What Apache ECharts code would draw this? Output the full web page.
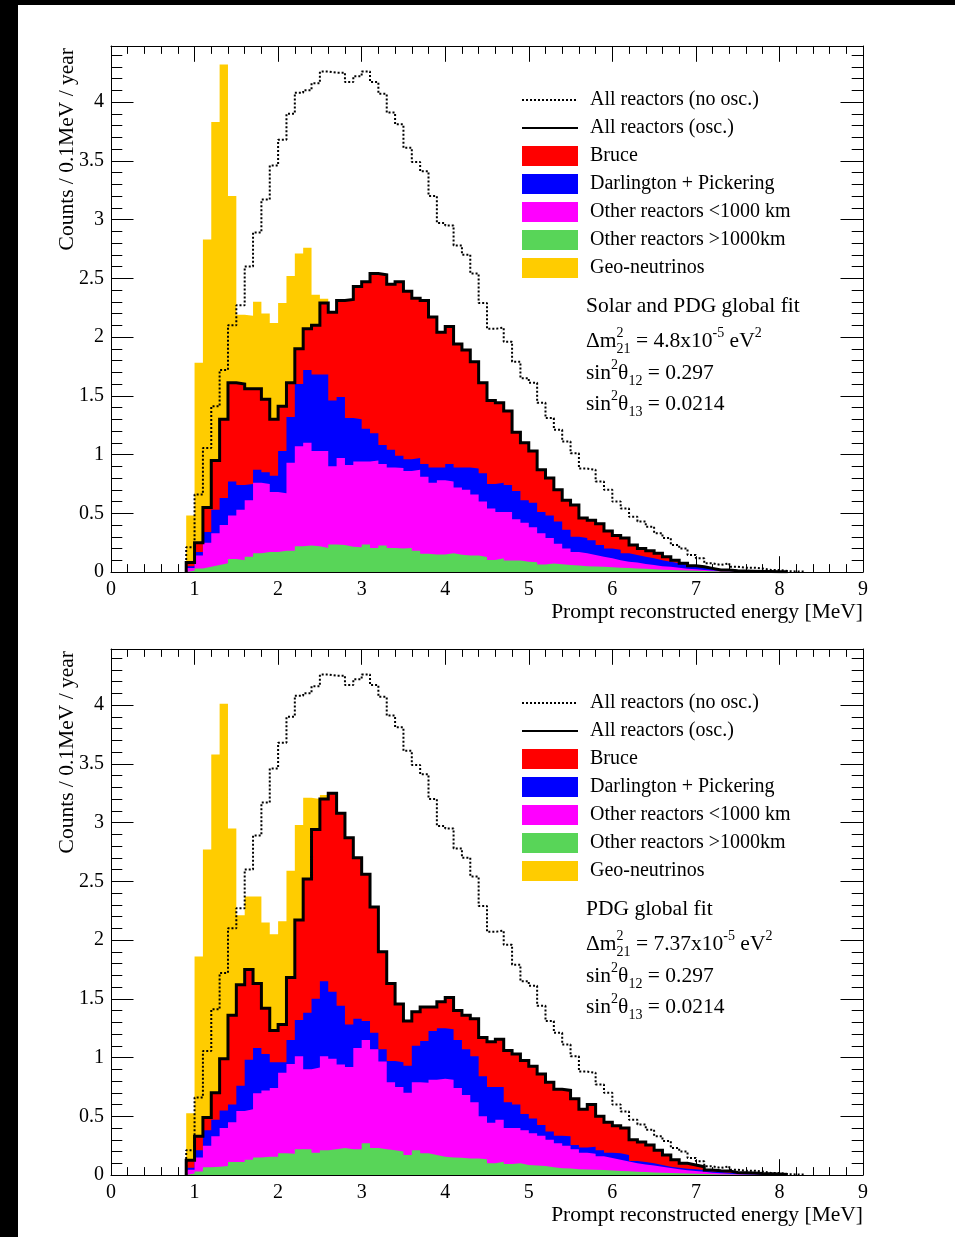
<!DOCTYPE html>
<html>
<head>
<meta charset="utf-8">
<script src="https://cdn.jsdelivr.net/npm/echarts@6/dist/echarts.min.js"></script>
<style>
  html, body { margin: 0; padding: 0; background: #fff; }
  #chart { width: 955px; height: 1237px; }
</style>
</head>
<body>
<div id="chart"></div>
<script>
// ---- Binning of the prompt-energy spectra (MeV) ----
const BIN_WIDTH = 0.1;
const FIRST_BIN = 0.9;   // lower edge of the first listed bin; earlier bins are empty
const E_MAX = 9;

// All reactors without oscillation (identical in both panels), counts / 0.1 MeV / year
const noOsc = [
  0.21, 0.66, 1.055, 1.41, 1.72, 2.10, 2.27, 2.60, 2.89, 3.17,
  3.46, 3.68, 3.90, 4.08, 4.10, 4.16, 4.26, 4.25, 4.25, 4.17,
  4.22, 4.26, 4.17, 4.07, 3.91, 3.81, 3.61, 3.49, 3.41, 3.20,
  2.97, 2.95, 2.78, 2.70, 2.54, 2.29, 2.07, 2.08, 1.96, 1.79,
  1.65, 1.61, 1.44, 1.31, 1.21, 1.11, 1.01, 0.88, 0.87, 0.77,
  0.70, 0.60, 0.54, 0.47, 0.43, 0.385, 0.33, 0.29, 0.23, 0.20,
  0.145, 0.116, 0.074, 0.06, 0.074, 0.045, 0.037, 0.037, 0.03, 0.017,
  0.017, 0.008, 0.005, 0.003
];

// Geo-neutrinos (identical in both panels), stacked on top of the reactors
const geo = [
  0.40, 1.53, 2.28, 2.88, 3.02, 1.59, 0.59, 0.62, 0.74, 0.73,
  0.82, 0.88, 0.91, 0.81, 0.69, 0.26, 0.035
];

// ---- Upper panel: Solar and PDG global fit (cumulative stack levels) ----
// All reactors (osc.) = top of the Bruce layer
const solarTotal = [
  0.08, 0.25, 0.55, 0.95, 1.30, 1.61, 1.60, 1.56, 1.56, 1.47,
  1.30, 1.41, 1.61, 1.90, 2.07, 2.10, 2.29, 2.21, 2.31, 2.32,
  2.43, 2.47, 2.54, 2.53, 2.45, 2.47, 2.39, 2.33, 2.31, 2.17,
  2.04, 2.09, 1.94, 1.89, 1.79, 1.61, 1.46, 1.44, 1.37, 1.19,
  1.10, 1.03, 0.87, 0.80, 0.70, 0.61, 0.57, 0.46, 0.44, 0.41,
  0.35, 0.31, 0.29, 0.23, 0.20, 0.18, 0.16, 0.13, 0.10, 0.074,
  0.054, 0.045, 0.031, 0.017, 0.017, 0.010, 0.008, 0.006, 0.005, 0.004,
  0.003, 0.002
];
// Top of the Darlington + Pickering layer
const solarDP = [
  0.05, 0.17, 0.34, 0.53, 0.63, 0.77, 0.74, 0.75, 0.87, 0.85,
  0.82, 1.03, 1.32, 1.60, 1.72, 1.68, 1.68, 1.46, 1.49, 1.31,
  1.30, 1.22, 1.18, 1.08, 1.04, 0.99, 0.96, 0.97, 0.92, 0.89,
  0.89, 0.92, 0.89, 0.89, 0.88, 0.84, 0.75, 0.76, 0.74, 0.69,
  0.61, 0.59, 0.51, 0.48, 0.43, 0.36, 0.30, 0.29, 0.27, 0.23,
  0.20, 0.19, 0.16, 0.145, 0.13, 0.116, 0.10, 0.088, 0.074, 0.06,
  0.045, 0.037, 0.026, 0.014, 0.013, 0.008, 0.006, 0.005, 0.004, 0.003,
  0.002, 0.0015
];
// Top of the other reactors < 1000 km layer
const solarNear = [
  0.035, 0.14, 0.25, 0.33, 0.40, 0.48, 0.53, 0.61, 0.76, 0.75,
  0.68, 0.67, 0.93, 1.07, 1.10, 1.03, 1.03, 0.90, 0.97, 0.91,
  0.94, 0.94, 0.95, 0.92, 0.89, 0.885, 0.86, 0.87, 0.81, 0.76,
  0.78, 0.77, 0.72, 0.70, 0.66, 0.60, 0.54, 0.51, 0.51, 0.45,
  0.42, 0.38, 0.33, 0.29, 0.24, 0.20, 0.17, 0.16, 0.145, 0.13,
  0.116, 0.10, 0.088, 0.08, 0.068, 0.06, 0.05, 0.045, 0.037, 0.028,
  0.023, 0.017, 0.012, 0.008, 0.007, 0.005, 0.004, 0.003, 0.002, 0.002,
  0.001, 0.001
];
// Other reactors > 1000 km (bottom layer)
const solarFar = [
  0.01, 0.03, 0.045, 0.06, 0.075, 0.11, 0.10, 0.13, 0.16, 0.17,
  0.17, 0.18, 0.18, 0.22, 0.225, 0.22, 0.205, 0.235, 0.23, 0.215,
  0.21, 0.235, 0.205, 0.225, 0.205, 0.20, 0.205, 0.18, 0.155, 0.15,
  0.15, 0.16, 0.147, 0.14, 0.14, 0.127, 0.103, 0.117, 0.097, 0.097,
  0.088, 0.082, 0.064, 0.073, 0.065, 0.06, 0.055, 0.05, 0.047, 0.045,
  0.04, 0.037, 0.034, 0.03, 0.027, 0.024, 0.02, 0.018, 0.015, 0.012,
  0.01, 0.008, 0.006, 0.005, 0.004, 0.003, 0.002, 0.002, 0.001, 0.001,
  0.001, 0.0005
];

// ---- Lower panel: PDG global fit (cumulative stack levels) ----
const pdgTotal = [
  0.125, 0.33, 0.49, 0.70, 0.99, 1.36, 1.62, 1.75, 1.63, 1.42,
  1.23, 1.28, 1.68, 2.17, 2.52, 2.94, 3.20, 3.25, 3.08, 2.87,
  2.70, 2.56, 2.28, 1.90, 1.63, 1.455, 1.31, 1.39, 1.43, 1.43,
  1.475, 1.51, 1.40, 1.36, 1.33, 1.17, 1.135, 1.155, 1.06, 1.03,
  0.975, 0.925, 0.86, 0.79, 0.73, 0.72, 0.65, 0.56, 0.60, 0.50,
  0.45, 0.42, 0.40, 0.30, 0.28, 0.255, 0.21, 0.17, 0.13, 0.10,
  0.085, 0.07, 0.043, 0.037, 0.035, 0.022, 0.02, 0.018, 0.012, 0.01,
  0.008, 0.004
];
const pdgDP = [
  0.062, 0.21, 0.38, 0.47, 0.55, 0.60, 0.76, 0.98, 1.08, 1.03,
  0.96, 0.96, 1.15, 1.32, 1.38, 1.50, 1.65, 1.56, 1.44, 1.28,
  1.33, 1.31, 1.21, 1.07, 0.97, 0.96, 0.93, 1.10, 1.14, 1.225,
  1.25, 1.24, 1.15, 1.07, 1.01, 0.84, 0.75, 0.75, 0.62, 0.60,
  0.52, 0.48, 0.425, 0.37, 0.335, 0.33, 0.255, 0.235, 0.24, 0.21,
  0.19, 0.185, 0.17, 0.12, 0.11, 0.10, 0.085, 0.07, 0.062, 0.054,
  0.048, 0.043, 0.03, 0.025, 0.02, 0.014, 0.012, 0.01, 0.007, 0.006,
  0.004, 0.002
];
const pdgNear = [
  0.045, 0.15, 0.25, 0.33, 0.40, 0.45, 0.545, 0.56, 0.695, 0.72,
  0.74, 0.87, 0.945, 1.01, 0.90, 0.915, 1.01, 0.99, 0.94, 0.92,
  1.08, 1.15, 1.07, 0.965, 0.79, 0.75, 0.70, 0.79, 0.785, 0.81,
  0.82, 0.81, 0.74, 0.68, 0.62, 0.50, 0.445, 0.47, 0.40, 0.40,
  0.38, 0.355, 0.335, 0.30, 0.27, 0.25, 0.22, 0.19, 0.18, 0.16,
  0.145, 0.13, 0.115, 0.10, 0.09, 0.08, 0.07, 0.06, 0.05, 0.04,
  0.033, 0.027, 0.02, 0.015, 0.01, 0.007, 0.005, 0.004, 0.003, 0.002,
  0.001, 0.001
];
const pdgFar = [
  0.012, 0.03, 0.065, 0.07, 0.077, 0.11, 0.11, 0.13, 0.15, 0.155,
  0.155, 0.185, 0.18, 0.22, 0.22, 0.19, 0.21, 0.22, 0.23, 0.22,
  0.22, 0.27, 0.23, 0.22, 0.21, 0.20, 0.17, 0.21, 0.185, 0.17,
  0.156, 0.15, 0.147, 0.14, 0.14, 0.133, 0.10, 0.113, 0.094, 0.10,
  0.085, 0.08, 0.077, 0.065, 0.057, 0.055, 0.05, 0.047, 0.045, 0.042,
  0.038, 0.035, 0.032, 0.028, 0.025, 0.022, 0.02, 0.017, 0.014, 0.012,
  0.01, 0.008, 0.006, 0.005, 0.004, 0.003, 0.002, 0.002, 0.001, 0.001,
  0.001, 0.0005
];

// Text shown in each panel
const fitTitles = ['Solar and PDG global fit', 'PDG global fit'];
const dm21Values = ['4.8', '7.37'];
const sin2th12 = '0.297';
const sin2th13 = '0.0214';
const legendNames = [
  'All reactors (no osc.)', 'All reactors (osc.)', 'Bruce', 'Darlington + Pickering',
  'Other reactors <1000 km', 'Other reactors >1000km', 'Geo-neutrinos'
];

// ---- Styling / layout ----
const SERIF = 'Liberation Serif';
const COLORS = {
  geo: '#ffcc00', bruce: '#ff0000', dp: '#0000ff', near: '#ff00ff', far: '#58d558'
};
const PANEL_TOP = [46, 649];
const PLOT_LEFT = 111, PLOT_W = 752, PLOT_H = 526;
const Y_MAX = 4.477;

// Histogram -> step outline points [lowEdge, content], closed back to zero
function stepPoints(values) {
  const pts = [[FIRST_BIN, 0]];
  values.forEach((v, i) => pts.push([+(FIRST_BIN + i * BIN_WIDTH).toFixed(2), v]));
  pts.push([+(FIRST_BIN + values.length * BIN_WIDTH).toFixed(2), 0]);
  return pts;
}

function panelSeries(p, total, dp, near, far) {
  const base = {
    type: 'line', xAxisIndex: p * 2, yAxisIndex: p * 4, step: 'end',
    symbol: 'none', silent: true, animation: false, clip: true
  };
  const fill = (name, vals, color) => Object.assign({}, base, {
    name, data: stepPoints(vals), color,
    lineStyle: { width: 0 }, areaStyle: { color, opacity: 1 }
  });
  const withGeo = total.map((v, i) => v + (geo[i] || 0));
  return [
    fill('Geo-neutrinos', withGeo, COLORS.geo),
    fill('Bruce', total, COLORS.bruce),
    fill('Darlington + Pickering', dp, COLORS.dp),
    fill('Other reactors <1000 km', near, COLORS.near),
    fill('Other reactors >1000km', far, COLORS.far),
    Object.assign({}, base, {
      name: 'All reactors (osc.)', data: stepPoints(total), color: '#000',
      lineStyle: { width: 3, color: '#000', join: 'miter' }
    }),
    Object.assign({}, base, {
      name: 'All reactors (no osc.)', data: stepPoints(noOsc), color: '#000',
      lineStyle: { width: 2, color: '#000', type: [2, 2] }
    })
  ];
}

const tickColor = { color: '#000', width: 1 };
function xAxes(p) {
  const common = {
    gridIndex: p, type: 'value', min: 0, max: E_MAX, interval: 1,
    axisLine: { show: true, onZero: false, lineStyle: tickColor },
    axisTick: { show: true, inside: true, length: 15.8, lineStyle: tickColor },
    minorTick: { show: true, splitNumber: 5, length: 7.9, lineStyle: tickColor },
    splitLine: { show: false }, minorSplitLine: { show: false }
  };
  return [
    Object.assign({}, common, {
      position: 'bottom',
      axisLabel: { show: true, margin: 8, fontFamily: SERIF, fontSize: 20, color: '#000' }
    }),
    Object.assign({}, common, { position: 'top', axisLabel: { show: false } })
  ];
}
function yAxes(p) {
  const major = (pos, label) => ({
    gridIndex: p, type: 'value', position: pos, min: 0, max: Y_MAX, interval: 0.5,
    axisLine: { show: true, onZero: false, lineStyle: tickColor },
    axisTick: { show: true, inside: true, length: 22.5, lineStyle: tickColor },
    axisLabel: {
      show: label, margin: 7, fontFamily: SERIF, fontSize: 20, color: '#000',
      formatter: v => (Math.abs(v * 2 - Math.round(v * 2)) < 1e-6 && v <= 4 + 1e-6) ? String(+v.toFixed(1)) : ''
    },
    splitLine: { show: false }
  });
  const minor = (pos) => ({
    gridIndex: p, type: 'value', position: pos, min: 0, max: Y_MAX, interval: 0.1,
    axisLine: { show: false, onZero: false },
    axisTick: { show: true, inside: true, length: 11.3, lineStyle: tickColor },
    axisLabel: { show: false }, splitLine: { show: false }
  });
  return [major('left', true), minor('left'), major('right', false), minor('right')];
}

function legendFor(p) {
  return {
    orient: 'vertical', left: 521, top: PANEL_TOP[p] + 44, padding: 0,
    itemWidth: 56, itemHeight: 20, itemGap: 8, selectedMode: false,
    textStyle: { fontFamily: SERIF, fontSize: 20, color: '#000', lineHeight: 20, padding: [0, 0, 0, 7] },
    data: [
      { name: legendNames[0], itemStyle: { opacity: 0 } },
      { name: legendNames[1], itemStyle: { opacity: 0 } },
      { name: legendNames[2], icon: 'rect', itemStyle: { color: COLORS.bruce, borderWidth: 0 } },
      { name: legendNames[3], icon: 'rect', itemStyle: { color: COLORS.dp, borderWidth: 0 } },
      { name: legendNames[4], icon: 'rect', itemStyle: { color: COLORS.near, borderWidth: 0 } },
      { name: legendNames[5], icon: 'rect', itemStyle: { color: COLORS.far, borderWidth: 0 } },
      { name: legendNames[6], icon: 'rect', itemStyle: { color: COLORS.geo, borderWidth: 0 } }
    ]
  };
}

const rich = {
  m: { fontFamily: SERIF, fontSize: 21.5, lineHeight: 30, verticalAlign: 'middle', fill: '#000' },
  s: { fontFamily: SERIF, fontSize: 14, lineHeight: 15, verticalAlign: 'top', fill: '#000' },
  z: { fontFamily: SERIF, fontSize: 14, lineHeight: 15, verticalAlign: 'top', fill: '#000', width: 0 },
  b: { fontFamily: SERIF, fontSize: 14, lineHeight: 20, verticalAlign: 'bottom', fill: '#000' }
};

function panelGraphics(p) {
  const off = PANEL_TOP[p] - PANEL_TOP[0];
  const txt = (x, y, text, extra) => ({
    type: 'text', x, y: y + off, silent: true,
    style: Object.assign({ text, fill: '#000', fontFamily: SERIF, fontSize: 21.5, align: 'left', verticalAlign: 'middle' }, extra || {})
  });
  return [
    txt(67, 48, 'Counts / 0.1MeV / year', { align: 'right' }),
    txt(863, 612, 'Prompt reconstructed energy [MeV]', { align: 'right' }),
    txt(586, 306.5, fitTitles[p]),
    txt(586, 341, '{m|Δm}{z|2}{b|21}{m| = ' + dm21Values[p] + 'x10}{s|-5}{m| eV}{s|2}', { rich }),
    txt(586, 373, '{m|sin}{s|2}{m|θ}{b|12}{m| = ' + sin2th12 + '}', { rich }),
    txt(586, 404.5, '{m|sin}{s|2}{m|θ}{b|13}{m| = ' + sin2th13 + '}', { rich })
  ].map((g, i) => i === 0 ? Object.assign(g, { rotation: Math.PI / 2 }) : g);
}

const chart = echarts.init(document.getElementById('chart'), null, { renderer: 'canvas' });
chart.setOption({
  backgroundColor: '#fff',
  animation: false,
  grid: PANEL_TOP.map(top => ({ left: PLOT_LEFT, top, width: PLOT_W, height: PLOT_H })),
  xAxis: [].concat(xAxes(0), xAxes(1)),
  yAxis: [].concat(yAxes(0), yAxes(1)),
  legend: [legendFor(0), legendFor(1)],
  series: [].concat(
    panelSeries(0, solarTotal, solarDP, solarNear, solarFar),
    panelSeries(1, pdgTotal, pdgDP, pdgNear, pdgFar)
  ),
  graphic: [
    { type: 'rect', silent: true, shape: { x: 0, y: 0, width: 18, height: 1237 }, style: { fill: '#000' } },
    { type: 'rect', silent: true, shape: { x: 0, y: 0, width: 955, height: 5 }, style: { fill: '#000' } }
  ].concat(panelGraphics(0), panelGraphics(1))
});
</script>
</body>
</html>
